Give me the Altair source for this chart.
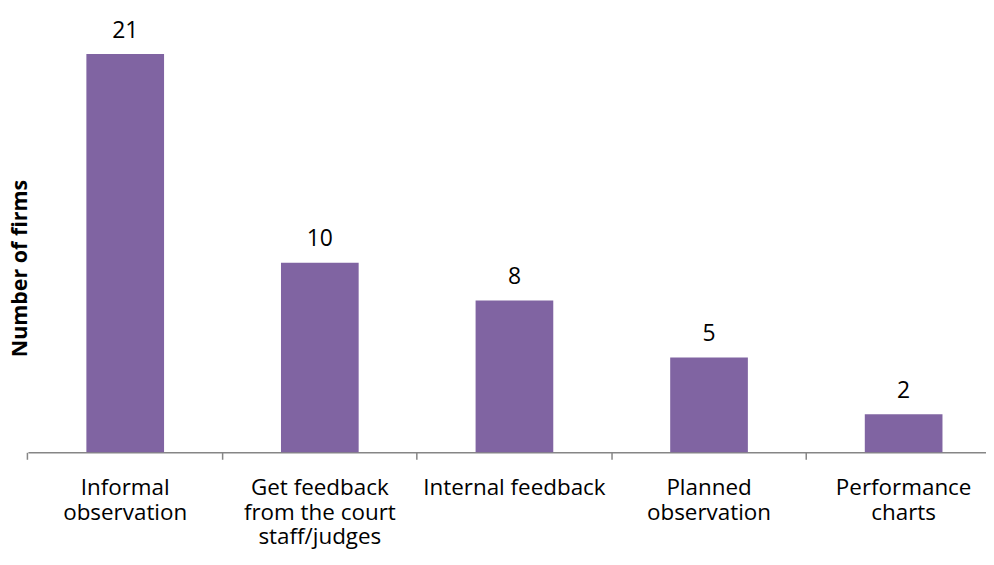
import altair as alt
import pandas as pd

categories = ["Informal observation", "Get feedback from the court staff/judges",
              "Internal feedback", "Planned observation", "Performance charts"]
label_lines = ["Informal\nobservation", "Get feedback\nfrom the court\nstaff/judges",
               "Internal feedback", "Planned\nobservation", "Performance\ncharts"]
values = [21, 10, 8, 5, 2]

df = pd.DataFrame({"cat": categories, "label": label_lines, "n": values})

FONT = "Open Sans"
label_map = {c: l for c, l in zip(categories, label_lines)}
expr = "{" + ",".join(f'"{c}": {l.split(chr(10))!r}' for c, l in label_map.items()).replace("'", '"') + "}[datum.value]"

x = alt.X("cat:N", sort=categories,
          scale=alt.Scale(range=[0, 977], paddingInner=0.6, paddingOuter=0.3),
          axis=alt.Axis(title=None, bandPosition=-0.75, labelAngle=0,
                        labelExpr=expr, labelFont=FONT, labelFontSize=22.5,
                        labelColor="#000000", labelLineHeight=25, labelPadding=17,
                        tickSize=7, tickColor="#868686", tickWidth=1.5,
                        domainColor="#868686", domainWidth=1.5, labelLimit=300))
y = alt.Y("n:Q", scale=alt.Scale(domain=[0, 23], nice=False),
          axis=alt.Axis(title="Number of firms", labels=False, ticks=False, domain=False,
                        grid=False, titleFont=FONT, titleFontSize=21.5, titleFontWeight="bold",
                        titleColor="#000000", titleX=-7, titleY=253, titleAngle=-90,
                        titleAlign="center", titleBaseline="middle"))

bars = alt.Chart(df).mark_bar(color="#8064A2", size=78).encode(x=x, y=y)
text = alt.Chart(df).mark_text(font=FONT, fontSize=23, color="#000000",
                               baseline="alphabetic", dy=-16.5).encode(
    x=alt.X("cat:N", sort=categories), y="n:Q", text="n:Q")

chart = (bars + text).properties(
    width=962, height=438,
    autosize=alt.AutoSizeParams(type="none"),
    padding={"left": 20, "top": 7, "right": 0, "bottom": 100},
).configure_view(stroke=None)

chart.save("out.html", embed_options={"renderer": "svg", "actions": False})
